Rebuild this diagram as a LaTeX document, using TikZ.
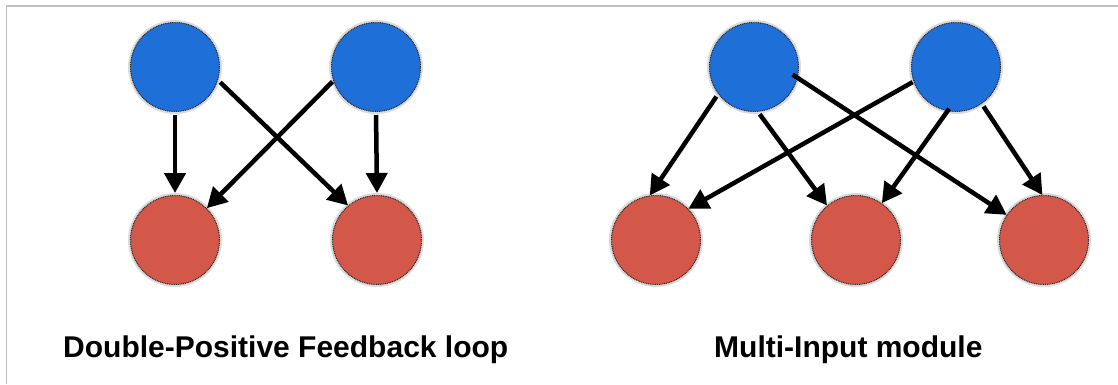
\documentclass[tikz,border=0pt]{standalone}
\usepackage{fontspec}
\setmainfont{Liberation Sans}
\usetikzlibrary{arrows.meta}
\definecolor{nodeblue}{HTML}{1F6FD8}
\definecolor{nodered}{HTML}{D4584A}
\definecolor{framegray}{HTML}{BFBFBF}
\tikzset{
  gene/.style={circle, minimum size=89pt, inner sep=0pt, draw=black!85, dash pattern=on 1pt off 0.8pt, line width=1pt},
  tf/.style={gene, fill=nodeblue},
  target/.style={gene, fill=nodered},
  halo/.style={circle, minimum size=94pt, inner sep=0pt, fill=black!14},
  link/.style={line width=4.5pt, -{Triangle[length=20pt,width=21pt]}, shorten <=1pt},
  caption/.style={anchor=base west, inner sep=0pt, font=\bfseries\fontsize{30}{36}\selectfont}
}
\begin{document}
\begin{tikzpicture}[x=1pt,y=-1pt]
\useasboundingbox (0,0) rectangle (1118,384);
\fill[white] (0,0) rectangle (1118,384);
\draw[framegray, line width=1.5pt] (6.5,384) -- (6.5,6) -- (1118,6);
% halos
\foreach \p in {(175,67),(376,67),(175,240),(377,240),(754,67),(956,67),(656,240),(856,240),(1044,240)}
  \node[halo] at \p {};
% left: double-positive feedback loop
\node[tf] (a1) at (175,67) {};
\node[tf] (a2) at (376,67) {};
\node[target] (c1) at (175,240) {};
\node[target] (c2) at (377,240) {};
\draw[link, shorten <=3pt, shorten >=2pt] (a1.-90) -- (c1.90);
\draw[link, shorten <=3pt, shorten >=2pt] (a2.-90) -- (c2.90);
\draw[link, shorten <=3pt] (a1.-17) -- (c2.130);
\draw[link, shorten <=1pt] (a2.-162) -- (c1.45);
% right: multi-input module
\node[tf] (b1) at (754,67) {};
\node[tf] (b2) at (956,67) {};
\node[target] (d1) at (656,240) {};
\node[target] (d2) at (856,240) {};
\node[target] (d3) at (1044,240) {};
\draw[link, shorten <=3pt] (b1.-143) -- (d1.98);
\draw[link, shorten <=3pt] (b1.-85) -- (d2.130);
\draw[link, shorten <=-6pt] (b1.-14) -- (d3.146);
\draw[link] (b2.-161) -- (d1.44);
\draw[link, shorten <=-3pt] (b2.-101) -- (d2.55);
\draw[link, shorten <=3pt] (b2.-55) -- (d3.92);
% captions
\node[caption] (t1) at (63,357) {Double-Positive Feedback loop};
\node[caption] (t2) at (714,357) {Multi-Input module};
\end{tikzpicture}
\end{document}
